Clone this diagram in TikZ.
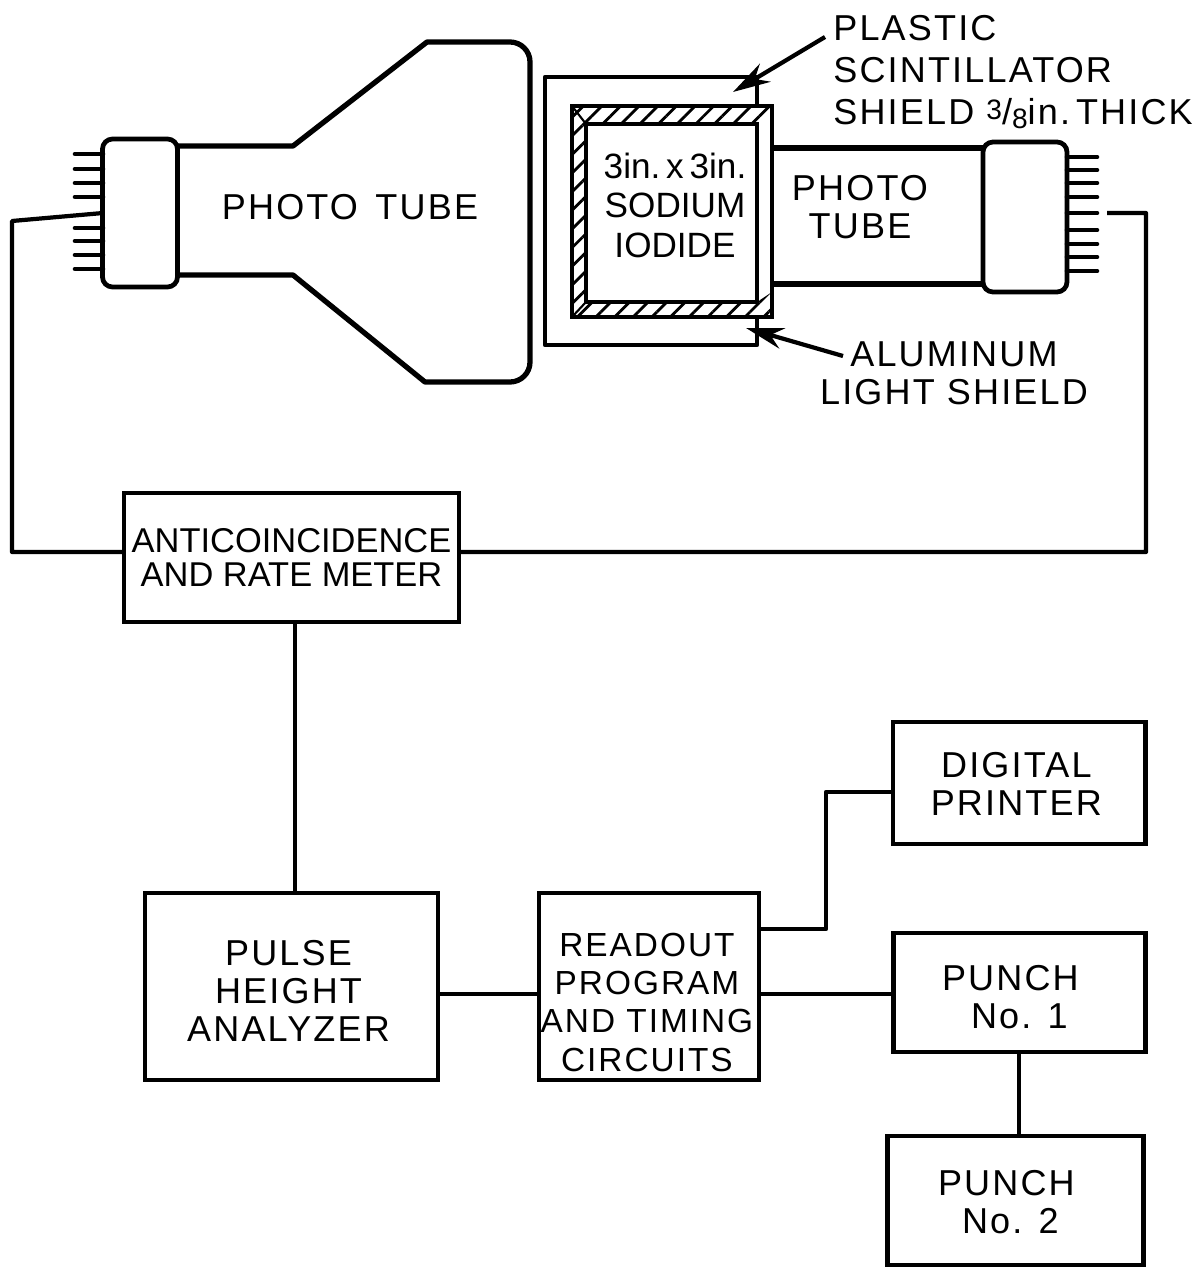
\documentclass[tikz,border=0pt]{standalone}
\usepackage{fontspec}
\setmainfont{Liberation Sans}
\newfontfamily\spaced[LetterSpace=6]{Liberation Sans}
\usepackage{tikz}
\usetikzlibrary{arrows.meta, positioning, patterns.meta}

\begin{document}
\begin{tikzpicture}[
    x=0.02cm, y=-0.02cm,
    every node/.style={font=\fontsize{19.6}{19}\selectfont, align=center},
    block/.style={rectangle, draw, line width=2.7pt, outer sep=0pt, inner sep=0pt},
    socket/.style={block, rounded corners=0.2cm},
    wire/.style={line width=2.4pt, line join=round},
    outline/.style={line width=3pt, line join=round},
    pin/.style={line width=2.6pt, line cap=round},
    leader/.style={-{Stealth[length=0.75cm, width=0.42cm]}, line width=2.4pt},
    txt/.style={font=\fontsize{20.5}{21.5}\selectfont\spaced, inner sep=0pt},
    txtnarrow/.style={font=\fontsize{19}{21.7}\selectfont\spaced, inner sep=0pt},
    txtwide/.style={font=\fontsize{20.5}{23.8}\selectfont\spaced, inner sep=0pt},
    hatched/.style={pattern={Lines[angle=45, distance=7.5pt, line width=1.6pt]}}
]
\useasboundingbox (0,0) rectangle (1195,1267);
% Electronics blocks
\node[block, minimum width=6.7cm, minimum height=2.58cm] (anti) at (291.5,557.5) {ANTICOINCIDENCE\\AND RATE METER};
\node[block, minimum width=5.86cm, minimum height=3.74cm, below=5.42cm of anti, label={[txt, yshift=-0.09cm, xshift=-0.06cm]center:PULSE\\HEIGHT\\ANALYZER}] (pha) {};
\node[block, minimum width=4.4cm, minimum height=3.74cm, right=2.02cm of pha, label={[txtnarrow, yshift=-0.32cm, xshift=-0.04cm]center:READOUT\\PROGRAM\\AND TIMING\\CIRCUITS}] (readout) {};
\node[block, txt, minimum width=5.06cm, minimum height=2.44cm, right=2.68cm of readout, yshift=4.07cm, label={[txt, yshift=-0.02cm, xshift=-0.06cm]center:DIGITAL\\PRINTER}] (printer) {};
\node[block, minimum width=5.04cm, minimum height=2.38cm, below=1.78cm of printer, label={[txt, yshift=-0.09cm]center:PUNCH\hspace*{0.36cm}\\No. 1}] (punchone) {};
\node[block, minimum width=5.12cm, minimum height=2.58cm, below=1.68cm of punchone, xshift=-0.08cm, label={[txt, yshift=-0.04cm, xshift=-0.1cm]center:PUNCH\hspace*{0.16cm}\\No. 2}] (punchtwo) {};
% Left photo tube
\node[socket, minimum width=1.5cm, minimum height=2.96cm] (capl) at (140,213) {};
\draw[outline] (177,146) -- (293,146) -- (427,42) [rounded corners=0.4cm] -- (530,42) -- (530,382) [sharp corners] -- (425,382) -- (293,275) -- (177,275);
\node[txt] (tubel) at (350,207) {PHOTO\hspace{0.35cm}TUBE};
\foreach \y in {154,169,183,197,228,241,255,269} {
  \draw[pin] (75,\y) -- (103,\y);
}
\coordinate (wirel) at (103,213);
% Crystal and shields
\draw[wire] (757,105) -- (757,77) -- (545,77) -- (545,345) -- (757,345) -- (757,317);
\node[block, minimum width=4cm, minimum height=4.22cm] (shield) at (672,211.5) {};
\fill[hatched] (572,106) -- (772,106) -- (772,113) -- (757,124) -- (586,124) -- (586,302) -- (757,302) -- (772,292) -- (772,317) -- (572,317) -- cycle;
\node[block, minimum width=3.42cm, minimum height=3.56cm] (crystal) at (671.5,213) {};
\draw[line width=1.2pt] (572,106) -- (586,124) (572,317) -- (586,302);
\node[inner sep=0pt, font=\fontsize{20}{22.5}\selectfont] (crystaltxt) at (675,205) {3in.\,x\,3in.\\SODIUM\\IODIDE};
% Right photo tube
\node[socket, minimum width=1.68cm, minimum height=3cm] (capr) at (1025,217) {};
\draw[outline] (772,148) -- (capr.west |- 0,148) (772,284) -- (capr.west |- 0,284);
\node[txt] (tuber) at (860,207) {PHOTO\\TUBE};
\foreach \y in {157,170,183,197,230,244,257,271} {
  \draw[pin] (capr.east |- 0,\y) -- (1097,\y);
}
\draw[pin] (capr.east |- 0,213) -- (1097,213);
\coordinate (wirer) at (1107,213);
% Labels with leaders
\node[txtwide, align=left, anchor=west] (plastic) at (833,72) {PLASTIC\\SCINTILLATOR\\SHIELD {\raisebox{3pt}{\fontsize{16}{16}\selectfont 3}/\raisebox{-2pt}{\fontsize{16}{16}\selectfont 8}}in.\,THICK};
\node[txt] (alum) at (954,373) {ALUMINUM\\LIGHT SHIELD};
\coordinate (plastictail) at (825,37);
\coordinate (plastictip) at (733,92);
\coordinate (alumtail) at (843,356);
\coordinate (alumtip) at (746,328);
\draw[leader] (plastictail) -- (plastictip);
\draw[leader] (alumtail) -- (alumtip);
% Connections
\draw[wire] ([yshift=0.11cm]anti.west) -- (12,552) -- (12,221) -- (wirel);
\draw[wire] ([yshift=0.11cm]anti.east) -- (1146,552) -- (1146,213) -- (wirer);
\draw[wire] (295,622) -- (295,893);
\draw[wire] (pha.east |- 0,994) -- (readout.west |- 0,994);
\draw[wire] (readout.east |- 0,994) -- (punchone.west |- 0,994);
\draw[wire] (readout.east |- 0,929) -| (826,792) -- (printer.west |- 0,792);
\draw[wire] (punchone.south -| 1019,0) -- (punchtwo.north -| 1019,0);
\end{tikzpicture}
\end{document}
